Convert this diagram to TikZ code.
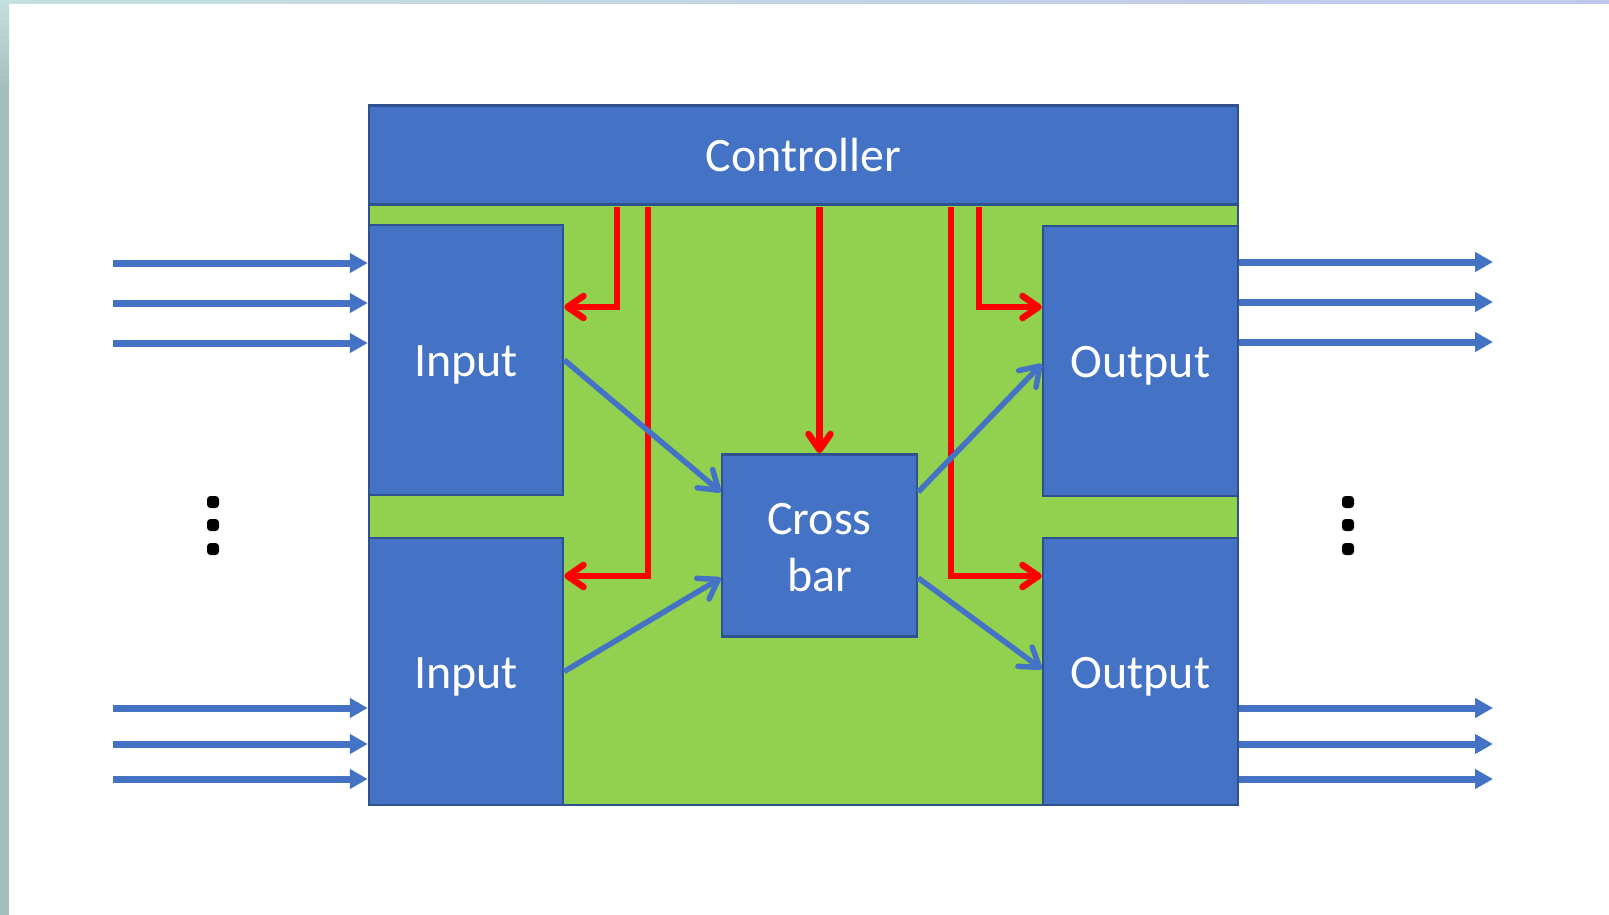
\documentclass[tikz,border=0pt]{standalone}
\usepackage{fontspec}
\setmainfont{Carlito}
\usetikzlibrary{arrows.meta,calc}
\definecolor{boxblue}{HTML}{4472C4}
\definecolor{boxedge}{HTML}{2F528F}
\definecolor{bggreen}{HTML}{92D050}
\definecolor{sigred}{HTML}{FF0000}
\definecolor{stripA}{HTML}{C2E0DE}
\definecolor{stripB}{HTML}{A3BEBE}
\definecolor{stripC}{HTML}{C0C7EC}
\begin{document}
\begin{tikzpicture}[x=1pt,y=-1pt,
  blk/.style={draw=boxedge, fill=boxblue, line width=2.5pt, text=white, inner sep=0pt,
    font=\fontsize{48}{57}\selectfont, align=center},
  lbltext/.style={text=white, inner sep=0pt, font=\fontsize{48}{57}\selectfont, yshift=-5pt},
  greenarea/.style={draw=boxedge, fill=bggreen, line width=2pt, inner sep=0pt},
  iolink/.style={draw=boxblue, line width=7pt, -{Triangle[length=18pt,width=19pt]}},
  datalink/.style={draw=boxblue, line width=5.5pt, -{Straight Barb[length=18pt,width=24pt,round]}},
  ctrllink/.style={draw=sigred, line width=6.5pt, -{Straight Barb[length=16pt,width=22pt,round]}},
  ellipsisdot/.style={fill=black, rounded corners=3.5pt}
]
\useasboundingbox (0,0) rectangle (1609,915);
% page decoration strips
\fill[stripB] (0,0) rectangle (9,915);
\shade[top color=stripA,bottom color=stripB] (0,0) rectangle (9,90);
\shade[left color=stripA,right color=stripC] (0,0) rectangle (1609,4);

% background area
\node[greenarea, minimum width=869pt, minimum height=602pt] (bg) at (803.5,504) {};

% blocks
\node[blk, minimum width=869pt, minimum height=99pt] (ctrl) at (803.5,155) {Controller};
\node[blk, minimum width=194pt, minimum height=270pt,
  label={[lbltext]center:Input}] (inA) at (466,360) {};
\node[blk, minimum width=194pt, minimum height=267pt,
  label={[lbltext]center:Input}] (inB) at (466,671.5) {};
\node[blk, minimum width=195pt, minimum height=270pt,
  label={[lbltext]center:Output}] (outA) at (1140.5,361) {};
\node[blk, minimum width=195pt, minimum height=267pt,
  label={[lbltext]center:Output}] (outB) at (1140.5,671.5) {};
\node[blk, minimum width=195pt, minimum height=182pt,
  label={[lbltext, align=center, yshift=3pt]center:Cross\\bar}] (xbar) at (819.5,545.5) {};

% control signals
\coordinate (cb) at ([yshift=-1.3pt]ctrl.south);
\draw[ctrllink] (617,0 |- cb) |- (inA.east |- 0,307);
\draw[ctrllink] (648,0 |- cb) |- (inB.east |- 0,576);
\draw[ctrllink] (cb -| xbar.north) -- (xbar.north);
\draw[ctrllink] (951,0 |- cb) |- (outB.west |- 0,576);
\draw[ctrllink] (979,0 |- cb) |- (outA.west |- 0,307);

% data paths
\draw[datalink] (inA.east) -- (xbar.west |- 0,492);
\draw[datalink] (inB.east) -- (xbar.west |- 0,578);
\draw[datalink] (xbar.east |- 0,492) -- (outA.west |- 0,364);
\draw[datalink] (xbar.east |- 0,578) -- (outB.west |- 0,669);

% external input links
\coordinate (l1) at (113,263);
\coordinate (l2) at (113,303);
\coordinate (l3) at (113,343);
\coordinate (l4) at (113,708);
\coordinate (l5) at (113,744);
\coordinate (l6) at (113,779);
\draw[iolink] (l1) -- (l1 -| inA.west);
\draw[iolink] (l2) -- (l2 -| inA.west);
\draw[iolink] (l3) -- (l3 -| inA.west);
\draw[iolink] (l4) -- (l4 -| inB.west);
\draw[iolink] (l5) -- (l5 -| inB.west);
\draw[iolink] (l6) -- (l6 -| inB.west);

% external output links
\coordinate (r1) at (1493,262);
\coordinate (r2) at (1493,302);
\coordinate (r3) at (1493,342);
\coordinate (r4) at (1493,708);
\coordinate (r5) at (1493,744);
\coordinate (r6) at (1493,779);
\draw[iolink] (r1 -| outA.east) -- (r1);
\draw[iolink] (r2 -| outA.east) -- (r2);
\draw[iolink] (r3 -| outA.east) -- (r3);
\draw[iolink] (r4 -| outB.east) -- (r4);
\draw[iolink] (r5 -| outB.east) -- (r5);
\draw[iolink] (r6 -| outB.east) -- (r6);

% vertical ellipses
\foreach \yy in {502,525,549} {
  \fill[ellipsisdot] (207,\yy-6) rectangle (219,\yy+6);
  \fill[ellipsisdot] (1342,\yy-6) rectangle (1354,\yy+6);
}
\end{tikzpicture}
\end{document}
